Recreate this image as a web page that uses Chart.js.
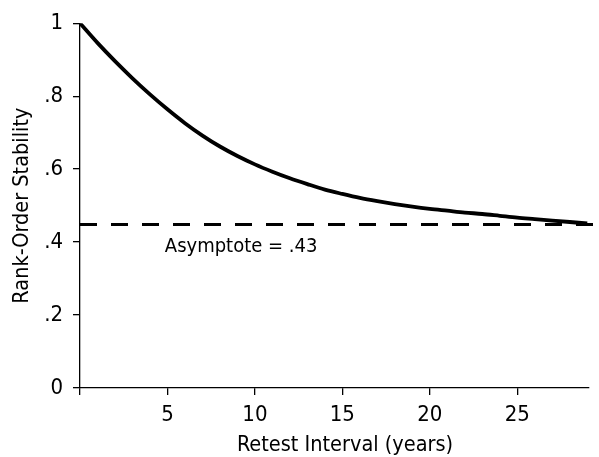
<!DOCTYPE html>
<html>
<head>
<meta charset="utf-8">
<script src="https://cdn.jsdelivr.net/npm/chart.js@4.4.0/dist/chart.umd.min.js"></script>
<style>
  html, body { margin: 0; padding: 0; background: #fff; }
  #wrap { width: 599px; height: 457px; }
</style>
</head>
<body>
<div id="wrap"><canvas id="c" width="599" height="457"></canvas></div>
<script>
// ---- data ----
const years = [0, 1, 2, 3, 4, 5, 6, 7, 8, 9, 10, 11, 12, 13, 14, 15, 16, 17, 18, 19, 20, 21, 22, 23, 24, 25, 26, 27, 28, 29];
const stability = [1.000, 0.946, 0.896, 0.849, 0.805, 0.764, 0.726, 0.692, 0.662, 0.636, 0.613, 0.593, 0.575, 0.559, 0.544, 0.532, 0.521, 0.512, 0.504, 0.497, 0.491, 0.486, 0.481, 0.477, 0.472, 0.467, 0.463, 0.459, 0.455, 0.451];
const asymptoteValue = 0.448;
const asymptoteSpan = [0, 29.7];
const asymptoteLabel = 'Asymptote = .43';
const asymptoteLabelX = 4.85;
const xTickValues = [0, 5, 10, 15, 20, 25];
const xTickLabels = ['', '5', '10', '15', '20', '25'];
const yTickValues = [0, 0.2, 0.4, 0.6, 0.8, 1];
const yTickLabels = ['0', '.2', '.4', '.6', '.8', '1'];
const xTitle = 'Retest Interval (years)';
const xTitleCenter = 15.15;
const yTitle = 'Rank-Order Stability';

const FONT = "'Liberation Sans Narrow', 'DejaVu Sans Condensed', Roboto, sans-serif";

const curvePoints = years.map((x, i) => ({ x: x, y: stability[i] }));
const asymptotePoints = asymptoteSpan.map(x => ({ x: x, y: asymptoteValue }));

const labelPlugin = {
  id: 'asymLabel',
  afterDatasetsDraw(chart) {
    const ctx = chart.ctx;
    const xs = chart.scales.x, ys = chart.scales.y;
    ctx.save();
    ctx.fillStyle = '#000';
    ctx.textBaseline = 'alphabetic';
    ctx.font = '20px ' + FONT;
    ctx.textAlign = 'left';
    ctx.fillText(asymptoteLabel, xs.getPixelForValue(asymptoteLabelX), ys.getPixelForValue(asymptoteValue) + 27);
    ctx.font = '21.5px ' + FONT;
    ctx.textAlign = 'center';
    ctx.fillText(xTitle, xs.getPixelForValue(xTitleCenter), ys.getPixelForValue(0) + 63);
    ctx.restore();
  }
};

new Chart(document.getElementById('c'), {
  type: 'scatter',
  data: {
    datasets: [
      {
        data: curvePoints,
        showLine: true,
        borderColor: '#000',
        borderWidth: 3.8,
        pointRadius: 0,
        cubicInterpolationMode: 'monotone',
        fill: false
      },
      {
        data: asymptotePoints,
        showLine: true,
        borderColor: '#000',
        borderWidth: 3,
        borderDash: [17, 14],
        pointRadius: 0,
        fill: false,
        clip: false
      }
    ]
  },
  options: {
    responsive: false,
    animation: false,
    devicePixelRatio: 1,
    layout: { padding: { top: 22, right: 10, left: 0, bottom: 0 } },
    plugins: { legend: { display: false }, tooltip: { enabled: false } },
    scales: {
      x: {
        type: 'linear',
        min: 0,
        max: 29.1,
        afterBuildTicks(axis) { axis.ticks = xTickValues.map(v => ({ value: v })); },
        afterFit(axis) { axis.height = 69; },
        ticks: {
          autoSkip: false,
          maxRotation: 0,
          color: '#000',
          padding: 7,
          font: { family: FONT, size: 22 },
          callback(value) { const i = xTickValues.indexOf(value); return i >= 0 ? xTickLabels[i] : ''; }
        },
        grid: { drawOnChartArea: false, drawTicks: true, tickLength: 7, color: '#000', lineWidth: 1.3 },
        border: { display: true, color: '#000', width: 1.3 },
        title: { display: false }
      },
      y: {
        type: 'linear',
        min: 0,
        max: 1,
        afterBuildTicks(axis) { axis.ticks = yTickValues.map(v => ({ value: v })); },
        afterFit(axis) { axis.width = 80; },
        ticks: {
          autoSkip: false,
          color: '#000',
          padding: 10,
          font: { family: FONT, size: 22 },
          callback(value) { const i = yTickValues.findIndex(v => Math.abs(v - value) < 1e-9); return i >= 0 ? yTickLabels[i] : ''; }
        },
        grid: { drawOnChartArea: false, drawTicks: true, tickLength: 7, color: '#000', lineWidth: 1.3 },
        border: { display: true, color: '#000', width: 1.3 },
        title: { display: true, text: yTitle, color: '#000', font: { family: FONT, size: 21.5 }, padding: { top: 9.5, bottom: 0 } }
      }
    }
  },
  plugins: [labelPlugin]
});
</script>
</body>
</html>
